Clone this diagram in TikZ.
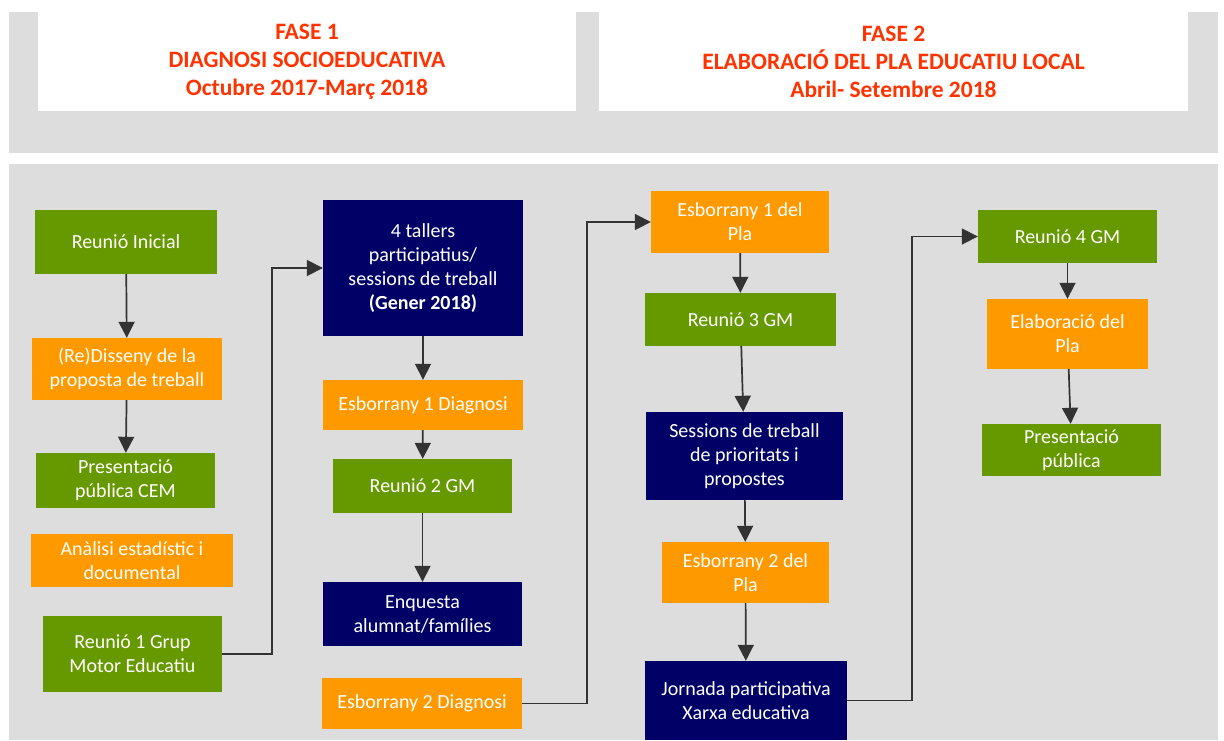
\documentclass[tikz,border=0pt]{standalone}
\usepackage{fontspec}
\setmainfont{Carlito}
\usetikzlibrary{arrows.meta}
\begin{document}
\begin{tikzpicture}[x=1pt, y=-1pt,
  boxnode/.style = {text = white, inner sep = 0pt, align = center, font = \fontsize{20}{24}\selectfont},
  greenbox/.style = {boxnode, fill = mygreen},
  orangebox/.style = {boxnode, fill = myorange},
  navybox/.style = {boxnode, fill = mynavy},
  header/.style = {fill = white, inner sep = 0pt, align = center, text = myred, font = \fontsize{23.5}{28}\selectfont\bfseries, minimum height = 99pt},
  flow/.style = {draw = myarrow, line width = 1.7pt, -{Triangle[length = 16pt, width = 16pt]}}]
\definecolor{mygreen}{HTML}{669900}
\definecolor{myorange}{HTML}{FF9900}
\definecolor{mynavy}{HTML}{000066}
\definecolor{mygray}{HTML}{DDDDDD}
\definecolor{myred}{HTML}{FF3300}
\definecolor{myarrow}{HTML}{333333}
\useasboundingbox (0,0) rectangle (1224,740);
\fill [mygray] (9,12) rectangle (1218,153);
\fill [mygray] (9,164) rectangle (1218,740);
\node[header, minimum width = 538pt] (fase1) at (307,61.5) {FASE 1\\DIAGNOSI SOCIOEDUCATIVA\\Octubre 2017-Març 2018};
\node[header, minimum width = 589pt] (fase2) at (893.5,61.5) {FASE 2\\ELABORACIÓ DEL PLA EDUCATIU LOCAL\\Abril- Setembre 2018};
% fase 1
\node[greenbox, minimum width = 182pt, minimum height = 64pt] (ini) at (126,242) {Reunió Inicial};
\node[orangebox, minimum width = 190pt, minimum height = 62pt] (redis) at (127,369) {(Re)Disseny de la\\proposta de treball};
\node[greenbox, minimum width = 179pt, minimum height = 55pt] (prescem) at (125.5,480.5) {Presentació\\pública CEM};
\node[orangebox, minimum width = 202pt, minimum height = 53pt] (analisi) at (132,560.5) {Anàlisi estadístic i\\documental};
\node[greenbox, minimum width = 179pt, minimum height = 76pt] (grup1) at (132.5,654) {Reunió 1 Grup\\Motor Educatiu};
\node[navybox, minimum width = 200pt, minimum height = 136pt] (tallers) at (423,268) {4 tallers\\participatius/\\sessions de treball\\\textbf{(Gener 2018)}};
\node[orangebox, minimum width = 200pt, minimum height = 50pt] (esb1d) at (423,405) {Esborrany 1 Diagnosi};
\node[greenbox, minimum width = 179pt, minimum height = 54pt] (reu2) at (422.5,486) {Reunió 2 GM};
\node[navybox, minimum width = 199pt, minimum height = 64pt] (enquesta) at (422.5,614) {Enquesta\\alumnat/famílies};
\node[orangebox, minimum width = 200pt, minimum height = 51pt] (esb2d) at (422,703.5) {Esborrany 2 Diagnosi};
% fase 2
\node[orangebox, minimum width = 178pt, minimum height = 62pt] (esb1p) at (740,222) {Esborrany 1 del\\Pla};
\node[greenbox, minimum width = 191pt, minimum height = 53pt] (reu3) at (740.5,319.5) {Reunió 3 GM};
\node[navybox, minimum width = 197pt, minimum height = 88pt] (sessions) at (744.5,456) {Sessions de treball\\de prioritats i\\propostes};
\node[orangebox, minimum width = 167pt, minimum height = 61pt] (esb2p) at (745.5,572.5) {Esborrany 2 del\\Pla};
\node[navybox, minimum width = 202pt, minimum height = 79pt] (jornada) at (746,700.5) {Jornada participativa\\Xarxa educativa};
\node[greenbox, minimum width = 179pt, minimum height = 53pt] (reu4) at (1067.5,236.5) {Reunió 4 GM};
\node[orangebox, minimum width = 161pt, minimum height = 70pt] (elab) at (1067.5,334) {Elaboració del\\Pla};
\node[greenbox, minimum width = 179pt, minimum height = 52pt] (prespub) at (1071.5,450) {Presentació\\pública};
% connectors
\foreach \a/\b in {ini/redis, redis/prescem, tallers/esb1d, esb1d/reu2, reu2/enquesta, esb1p/reu3, reu3/sessions, sessions/esb2p, esb2p/jornada, reu4/elab, elab/prespub}
  \draw[flow] (\a) -- (\b);
\coordinate (k1) at (272,460);
\coordinate (k2) at (587,460);
\coordinate (k3) at (912,460);
\draw[flow] (grup1.east) -| (k1) |- (tallers.west);
\draw[flow] (esb2d.east) -| (k2) |- (esb1p.west);
\draw[flow] (jornada.east) -| (k3) |- (reu4.west);
\end{tikzpicture}
\end{document}
